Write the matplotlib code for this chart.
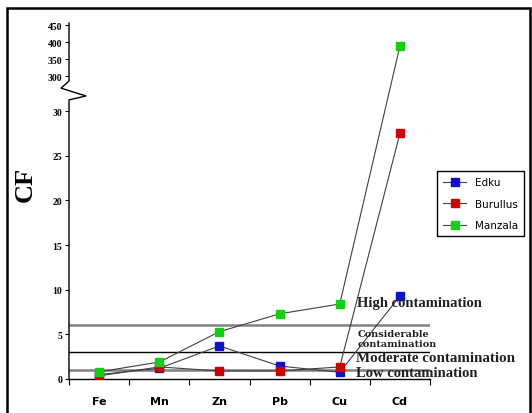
import numpy as np
import matplotlib
matplotlib.use('Agg')
import matplotlib.pyplot as plt
from matplotlib.lines import Line2D
from matplotlib.patches import Rectangle

# ==================== 数据 ====================
metals = ['Fe', 'Mn', 'Zn', 'Pb', 'Cu', 'Cd']
edku = [0.5, 1.2, 3.7, 1.45, 0.75, 9.3]
burullus = [0.35, 1.35, 0.9, 0.9, 1.35, 27.5]
manzala = [0.8, 1.9, 5.3, 7.3, 8.4, 388]
yticks = [0, 5, 10, 15, 20, 25, 30, 300, 350, 400, 450]
levels = [1, 3, 6]
level_styles = [('#808080', 1.8), ('black', 1.0), ('#808080', 1.8)]

# ==================== 断轴 (0-32 线性, 300-450 压缩) ====================
LOW_TOP, HIGH_BOT = 32.0, 300.0
F_LOW_TOP, F_HIGH_BOT = 32.0, 33.93
K_HIGH = 0.0381


def fwd(v):
    v = np.asarray(v, dtype=float)
    mid = F_LOW_TOP + (v - LOW_TOP) * (F_HIGH_BOT - F_LOW_TOP) / (HIGH_BOT - LOW_TOP)
    hi = F_HIGH_BOT + (v - HIGH_BOT) * K_HIGH
    return np.where(v <= LOW_TOP, v, np.where(v <= HIGH_BOT, mid, hi))


def inv(f):
    f = np.asarray(f, dtype=float)
    mid = LOW_TOP + (f - F_LOW_TOP) * (HIGH_BOT - LOW_TOP) / (F_HIGH_BOT - F_LOW_TOP)
    hi = HIGH_BOT + (f - F_HIGH_BOT) / K_HIGH
    return np.where(f <= F_LOW_TOP, f, np.where(f <= F_HIGH_BOT, mid, hi))


fig = plt.figure(figsize=(5.32, 4.14), dpi=100)
fig.patches.append(Rectangle((7 / 532, -0.05), 523 / 532, 1.05 - 9 / 414,
                             transform=fig.transFigure, fill=False,
                             edgecolor='black', linewidth=1.8))

ax = fig.add_axes([69 / 532, 34 / 414, 361 / 532, 356 / 414])
ax.set_yscale('function', functions=(fwd, inv))
ax.set_ylim(0, 456)
x = np.arange(len(metals))
ax.set_xlim(-0.5, len(metals) - 0.5)

# 等级线
for lv, (c, lw) in zip(levels, level_styles):
    ax.axhline(lv, color=c, linewidth=lw, zorder=1)

series = [('Edku', edku, '#1010d0'),
          ('Burullus', burullus, '#d00000'),
          ('Manzala', manzala, '#10d010')]
for name, vals, col in series:
    ax.plot(x, vals, color='#404040', linewidth=0.8, zorder=2)
    ax.plot(x, vals, linestyle='none', marker='s', markersize=6,
            markerfacecolor=col, markeredgecolor=col, zorder=3)

# 轴样式
for s in ['top', 'right', 'left']:
    ax.spines[s].set_visible(False)
ax.spines['bottom'].set_linewidth(1.0)
ax.set_yticks(yticks)
ax.set_yticklabels([str(t) for t in yticks], fontsize=7, fontweight='bold',
                   family='Liberation Serif')
ax.tick_params(axis='y', length=3, width=0.8, pad=2)
ax.set_xticks(x)
ax.set_xticklabels(metals, fontsize=8, fontweight='bold', family='DejaVu Sans')
ax.tick_params(axis='x', which='major', length=0, pad=12)
ax.set_xticks(np.arange(-0.5, len(metals), 1.0), minor=True)
ax.tick_params(axis='x', which='minor', length=4, width=0.8)

# 左轴 + 断裂折线
ax.plot([0, 0, -0.022, 0.047, 0, 0],
        [1.0, 0.837, 0.817, 0.795, 0.784, 0.0],
        transform=ax.transAxes, color='black', linewidth=1.0,
        clip_on=False, zorder=4)

ax.set_ylabel('CF', fontsize=19, fontweight='bold', family='Liberation Serif')
ax.yaxis.set_label_coords(-0.089, 0.55)

# 等级文字
tfont = dict(family='Liberation Serif', fontweight='bold', color='#202020')
fig.text(357 / 532, 1 - 307 / 414, 'High contamination', fontsize=10.5, **tfont)
fig.text(358 / 532, 1 - 347 / 414, 'Considerable\ncontamination', fontsize=7,
         linespacing=1.15, family='DejaVu Serif', fontweight='bold',
         color='#202020')
fig.text(356 / 532, 1 - 362 / 414, 'Moderate contamination', fontsize=10.8, **tfont)
fig.text(356 / 532, 1 - 377 / 414, 'Low contamination', fontsize=10.5, **tfont)

# 图例
handles = [Line2D([0], [0], color='#404040', linewidth=0.8, marker='s',
                  markersize=6, markerfacecolor=c, markeredgecolor=c)
           for _, _, c in series]
fig.legend(handles, [n for n, _, _ in series], loc='upper left',
           bbox_to_anchor=(437 / 532, 1 - 172 / 414), borderaxespad=0,
           fontsize=7.5, frameon=True, fancybox=False, edgecolor='black',
           framealpha=1, handlelength=2.2, labelspacing=1.1, borderpad=0.6)

plt.savefig('out.png', dpi=100)
